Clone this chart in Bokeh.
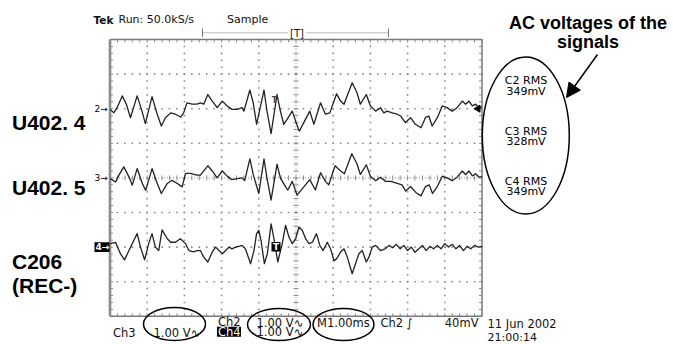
import numpy as np
from bokeh.plotting import figure
from bokeh.models import Range1d, Arrow, NormalHead
from bokeh.core.properties import value
from bokeh.embed import file_html
from bokeh.resources import INLINE

# ---------------- captured waveforms: time in ms (1 ms/div), amplitude in V (1 V/div)
t_ch2 = [0.01, 0.10, 0.19, 0.33, 0.44, 0.55, 0.73, 0.86, 0.95, 1.13, 1.27, 1.38, 1.49, 1.63,
         1.76, 1.90, 1.98, 2.07, 2.21, 2.34, 2.43, 2.52, 2.63, 2.75, 2.88, 3.02, 3.15, 3.28,
         3.42, 3.55, 3.60, 3.76, 3.85, 3.94, 4.14, 4.22, 4.33, 4.49, 4.58, 4.67, 4.76, 4.90,
         4.99, 5.09, 5.23, 5.37, 5.48, 5.66, 5.79, 5.91, 6.09, 6.20, 6.29, 6.51, 6.64, 6.73,
         6.89, 7.00, 7.14, 7.27, 7.36, 7.45, 7.59, 7.72, 7.81, 7.94, 8.08, 8.21, 8.36, 8.48,
         8.57, 8.66, 8.80, 8.93, 9.06, 9.20, 9.33, 9.47, 9.56, 9.65, 9.74, 9.83, 9.92, 10.0]
v_ch2 = [-0.02, -0.12, 0.03, 0.37, 0.13, -0.26, 0.37, -0.07, -0.43, 0.35, -0.16, -0.50, -0.26,
         -0.12, -0.16, -0.24, -0.12, 0.17, 0.13, 0.13, 0.17, 0.13, 0.41, 0.22, 0.03, 0.22, 0.08,
         -0.02, -0.02, 0.03, -0.07, 0.54, 0.17, -0.45, 0.54, -0.07, -0.72, 0.41, -0.07, -0.45,
         -0.31, -0.07, -0.36, -0.65, -0.36, -0.07, -0.45, 0.17, -0.16, -0.12, 0.43, 0.22, 0.13,
         0.75, 0.46, 0.13, 0.41, 0.08, -0.07, 0.03, -0.12, -0.07, -0.12, -0.16, -0.21, -0.40,
         -0.26, -0.45, -0.55, -0.26, -0.21, -0.50, -0.26, 0.08, 0.03, -0.07, 0.03, 0.22, 0.13,
         0.22, 0.08, 0.13, 0.03, 0.05]

t_ch3 = [0.01, 0.15, 0.24, 0.37, 0.51, 0.60, 0.73, 0.87, 0.96, 1.13, 1.27, 1.38, 1.54, 1.67,
         1.81, 1.94, 2.03, 2.16, 2.34, 2.43, 2.63, 2.75, 2.88, 3.02, 3.15, 3.28, 3.42, 3.55,
         3.62, 3.76, 3.85, 4.00, 4.14, 4.22, 4.33, 4.49, 4.58, 4.72, 4.78, 4.90, 5.03, 5.21,
         5.37, 5.52, 5.66, 5.79, 5.88, 6.05, 6.20, 6.30, 6.50, 6.64, 6.73, 6.89, 7.00, 7.14,
         7.27, 7.40, 7.55, 7.70, 7.85, 7.95, 8.08, 8.22, 8.36, 8.48, 8.58, 8.67, 8.80, 8.93,
         9.06, 9.20, 9.33, 9.47, 9.56, 9.65, 9.74, 9.83, 9.92, 10.0]
v_ch3 = [-0.02, -0.12, 0.08, 0.32, 0.03, -0.21, 0.27, -0.16, -0.36, 0.27, -0.16, -0.45, -0.16,
         -0.07, -0.16, -0.26, 0.13, 0.13, 0.08, 0.08, 0.35, 0.20, 0.00, 0.20, 0.05, -0.05, -0.02,
         0.00, -0.08, 0.55, 0.10, -0.45, 0.55, 0.00, -0.64, 0.40, 0.00, -0.26, -0.35, -0.10,
         -0.50, -0.26, -0.05, -0.35, 0.15, -0.10, -0.20, 0.35, 0.20, 0.12, 0.70, 0.40, 0.10,
         0.38, 0.05, -0.08, 0.02, -0.10, -0.10, -0.15, -0.20, -0.38, -0.25, -0.42, -0.52, -0.25,
         -0.20, -0.45, -0.25, 0.05, 0.00, -0.08, 0.02, 0.20, 0.10, 0.20, 0.06, 0.12, 0.02, 0.04]

t_ch4 = [0.01, 0.15, 0.28, 0.39, 0.51, 0.64, 0.73, 0.82, 0.93, 1.04, 1.13, 1.22, 1.31, 1.40,
         1.54, 1.63, 1.76, 1.89, 2.03, 2.12, 2.25, 2.34, 2.43, 2.52, 2.63, 2.75, 2.84, 2.93,
         3.02, 3.11, 3.20, 3.28, 3.37, 3.46, 3.55, 3.64, 3.78, 3.87, 3.94, 4.00, 4.06, 4.15,
         4.23, 4.33, 4.40, 4.51, 4.63, 4.72, 4.81, 4.90, 4.99, 5.08, 5.17, 5.26, 5.35, 5.44,
         5.55, 5.64, 5.73, 5.84, 5.93, 6.02, 6.09, 6.20, 6.29, 6.38, 6.51, 6.60, 6.69, 6.78,
         6.89, 6.96, 7.05, 7.14, 7.27, 7.40, 7.50, 7.60, 7.70, 7.80, 7.90, 8.00, 8.10, 8.20,
         8.30, 8.40, 8.50, 8.60, 8.70, 8.80, 8.90, 9.00, 9.10, 9.20, 9.30, 9.40, 9.50, 9.60,
         9.70, 9.80, 9.90, 10.0]
v_ch4 = [0.10, 0.14, -0.19, -0.37, -0.10, 0.19, 0.39, 0.00, -0.37, 0.10, 0.39, 0.00, -0.10,
         0.50, 0.24, 0.14, 0.14, 0.24, 0.10, -0.10, -0.14, -0.10, -0.10, -0.29, -0.43, -0.14,
         0.00, -0.10, -0.19, -0.10, 0.00, -0.05, 0.00, 0.02, 0.05, -0.05, -0.48, -0.10, 0.39,
         0.48, 0.19, -0.48, -0.19, 0.67, 0.29, -0.43, 0.10, 0.63, 0.29, 0.10, 0.24, 0.58, 0.48,
         0.24, 0.10, 0.14, 0.39, 0.05, -0.10, 0.14, -0.05, -0.39, -0.34, -0.14, -0.05, -0.29,
         -0.77, -0.48, -0.19, -0.10, -0.43, -0.29, 0.00, 0.05, -0.10, -0.05, 0.05, -0.02, 0.08,
         -0.05, 0.05, -0.10, 0.00, -0.15, -0.05, 0.05, -0.10, 0.02, -0.05, 0.05, -0.05, 0.10,
         0.00, 0.08, -0.05, 0.05, -0.10, 0.02, -0.05, 0.05, 0.00, 0.02]

# vertical position of each channel's ground marker, in divisions
ch_offsets = {"2": 2.0, "3": 0.0, "4": -2.0}
volts_per_div = 1.0
rms_labels = [("C2 RMS", "349mV"), ("C3 RMS", "328mV"), ("C4 RMS", "349mV")]
side_labels = ["U402. 4", "U402. 5"]

# ---------------- screen geometry of the scope display
W, H = 673, 344
GX0, GY0 = 109.5, 39.0      # top-left corner of the graticule (px)
DX, DY = 37.2, 34.6         # one division (px)
NX, NY = 10, 8
YC = GY0 + DY * NY / 2


def X(px):
    return (px - GX0) / DX


def Y(py):
    return (YC - py) / DY


p = figure(width=W, height=H, x_range=Range1d(X(0), X(W)), y_range=Range1d(Y(H), Y(0)),
           output_backend="svg", toolbar_location=None, x_axis_type=None, y_axis_type=None,
           min_border=0)
p.outline_line_color = None
p.background_fill_color = "white"
p.border_fill_color = "white"

SCOPE_FONT = value("DejaVu Sans")
LABEL_FONT = value("Liberation Sans")
GRID_C = "#8c8c8c"

# ---------------- graticule
fine = np.round(np.arange(0, NX + 1e-9, 0.2), 3)
fine_y = np.round(np.arange(-NY / 2, NY / 2 + 1e-9, 0.2), 3)

dx, dy = [], []
for gx in range(1, NX):
    if gx == NX // 2:
        continue
    dx += [gx] * len(fine_y)
    dy += list(fine_y)
for gy in range(-NY // 2 + 1, NY // 2):
    if gy == 0:
        continue
    dx += list(fine)
    dy += [gy] * len(fine)
p.scatter(dx, dy, marker="square", size=1.6, fill_color=GRID_C, line_color=None)

# border ticks every 0.2 div
tk = 3.0
p.segment(x0=fine, y0=[NY / 2] * len(fine), x1=fine, y1=[NY / 2 - tk / DY] * len(fine),
          line_color=GRID_C, line_width=1)
p.segment(x0=fine, y0=[-NY / 2] * len(fine), x1=fine, y1=[-NY / 2 + tk / DY] * len(fine),
          line_color=GRID_C, line_width=1)
p.segment(x0=[0] * len(fine_y), y0=fine_y, x1=[tk / DX] * len(fine_y), y1=fine_y,
          line_color=GRID_C, line_width=1)
p.segment(x0=[NX] * len(fine_y), y0=fine_y, x1=[NX - tk / DX] * len(fine_y), y1=fine_y,
          line_color=GRID_C, line_width=1)

# centre cross-hair with its tick marks
p.line([0, NX], [0, 0], line_color=GRID_C, line_width=1, line_dash="1 2")
p.line([NX / 2, NX / 2], [-NY / 2, NY / 2], line_color=GRID_C, line_width=1, line_dash="1 2")
ct = 2.5
p.segment(x0=fine, y0=[-ct / DY] * len(fine), x1=fine, y1=[ct / DY] * len(fine),
          line_color=GRID_C, line_width=1)
p.segment(x0=[NX / 2 - ct / DX] * len(fine_y), y0=fine_y, x1=[NX / 2 + ct / DX] * len(fine_y),
          y1=fine_y, line_color=GRID_C, line_width=1)

# frame
p.line([0, NX, NX, 0], [NY / 2, NY / 2, -NY / 2, -NY / 2], line_color="#7a7a7a", line_width=1.5)
p.line([0, 0], [NY / 2, -NY / 2], line_color="#8a8a8a", line_width=2.6)

# ---------------- traces
TRACE_C = "#222222"
for ch, t, v in (("2", t_ch2, v_ch2), ("3", t_ch3, v_ch3), ("4", t_ch4, v_ch4)):
    off = ch_offsets[ch]
    p.line(t, [off + val / volts_per_div for val in v], line_color=TRACE_C, line_width=1.3,
           line_join="round")

# channel ground markers
p.text(x=[X(94), X(94)], y=[ch_offsets["2"], ch_offsets["3"]], text=["2\u2192", "3\u2192"],
       text_font=SCOPE_FONT, text_font_size="9px", text_baseline="middle", text_align="left",
       text_color="black")
p.quad(left=[X(94)], right=[X(109)], top=[ch_offsets["4"] + 4.8 / DY],
       bottom=[ch_offsets["4"] - 4.8 / DY], fill_color="black", line_color=None)
p.text(x=[X(95)], y=[ch_offsets["4"]], text=["4\u2192"], text_font=SCOPE_FONT,
       text_font_size="9px", text_font_style="bold", text_baseline="middle",
       text_align="left", text_color="white")

# trigger-level pointer on the right edge
p.scatter([X(477.5)], [ch_offsets["2"]], marker="triangle", angle=np.pi / 2, size=7,
          fill_color="black", line_color="black")

# trigger marks on the traces
p.quad(left=[X(271)], right=[X(280)], top=[ch_offsets["4"] + 5 / DY],
       bottom=[ch_offsets["4"] - 4.5 / DY], fill_color="black", line_color=None)
p.text(x=[X(275.5)], y=[ch_offsets["4"]], text=["T"], text_font=SCOPE_FONT,
       text_font_size="9px", text_font_style="bold", text_baseline="middle",
       text_align="center", text_color="white")
p.text(x=[X(274)], y=[Y(100)], text=["T"], text_font=SCOPE_FONT, text_font_size="8px",
       text_font_style="bold", text_baseline="middle", text_align="center", text_color="#444")

# ---------------- header line of the scope
p.text(x=[X(93)], y=[Y(19)], text=["Tek"], text_font=SCOPE_FONT, text_font_size="10.5px",
       text_font_style="bold", text_baseline="middle", text_color="#111")
p.text(x=[X(118), X(226.5)], y=[Y(19), Y(19)], text=["Run: 50.0kS/s", "Sample"],
       text_font=SCOPE_FONT, text_font_size="11px", text_baseline="middle", text_color="#111")

# record / trigger position bar
p.segment(x0=[X(202), X(306)], y0=[Y(32.3)] * 2, x1=[X(287), X(388)], y1=[Y(32.3)] * 2,
          line_color="#777", line_width=1, line_dash="1 1")
p.segment(x0=[X(202), X(388)], y0=[Y(28)] * 2, x1=[X(202), X(388)], y1=[Y(36.5)] * 2,
          line_color="#777", line_width=1)
p.text(x=[X(296.5)], y=[Y(33)], text=["[T]"], text_font=SCOPE_FONT, text_font_size="10px",
       text_baseline="middle", text_align="center", text_color="#111")


# ---------------- readouts under the graticule
def readout(px, py, s, align="left", color="#111", size="11.5px"):
    p.text(x=[X(px)], y=[Y(py)], text=[s], text_font=SCOPE_FONT, text_font_size=size,
           text_baseline="middle", text_align=align, text_color=color)


readout(112.5, 332, "Ch3")
readout(153, 332, "1.00 V\u223f")
readout(217.5, 321.5, "Ch2")
p.quad(left=[X(216.5)], right=[X(240.5)], top=[Y(326.3)], bottom=[Y(336.3)],
       fill_color="black", line_color=None)
readout(217.5, 331.3, "Ch4", color="white")
readout(256, 322, "1.00 V\u223f")
readout(256, 331.5, "1.00 V\u223f")
readout(316.5, 322.5, "M1.00ms")
readout(380, 322.5, "Ch2 \u222b")
readout(478, 322.5, "40mV", align="right")
readout(487, 323.5, "11 Jun 2002")
readout(487, 337, "21:00:14", size="11px")

# ---------------- measurement readouts
rms_y = [(80, 90.5), (130.5, 140.5), (180.5, 191)]
for (name, val), (y1, y2) in zip(rms_labels, rms_y):
    readout(525.5, y1, name, align="center", size="11px", color="#000")
    readout(525.5, y2, val, align="center", size="11px", color="#000")

# ---------------- annotation ellipses, arrow and labels
ell_x = [X(525.3), X(174), X(278.5), X(343)]
ell_y = [Y(135), Y(323.5), Y(324), Y(324)]
ell_w = [87, 62, 63, 61]
ell_h = [157, 33, 32, 32]
p.ellipse(x=ell_x, y=ell_y, width=ell_w, height=ell_h, width_units="screen",
          height_units="screen", fill_color=None, line_color="black", line_width=1.5)

p.add_layout(Arrow(end=NormalHead(size=14, fill_color="black", line_color="black"),
                   x_start=X(597), y_start=Y(54), x_end=X(566), y_end=Y(97),
                   line_color="black", line_width=1.5))

p.text(x=[X(587.5), X(587.5)], y=[Y(22.5), Y(41)], text=["AC voltages of the", "signals"],
       text_font=LABEL_FONT, text_font_size="18px", text_font_style="bold",
       text_align="center", text_baseline="alphabetic", text_color="black")

p.text(x=[X(11.5)] * 4, y=[Y(121.5), Y(187.3), Y(260.7), Y(285)],
       text=side_labels + ["C206", "(REC-)"], text_font=LABEL_FONT, text_font_size="21px",
       text_font_style="bold", text_align="left", text_baseline="alphabetic",
       text_color="black")

open("out.html", "w").write(file_html(p, INLINE))
